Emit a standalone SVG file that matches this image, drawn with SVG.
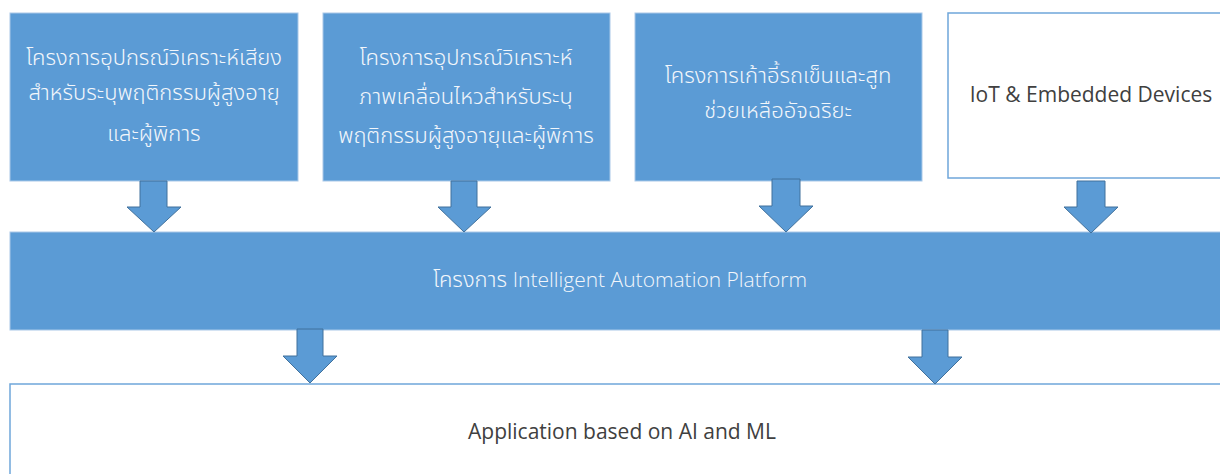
<svg xmlns="http://www.w3.org/2000/svg" width="1220" height="474" viewBox="0 0 1220 474">
  <defs>
    <style>
      .blue { fill: #5B9BD5; stroke: #A9C8E8; stroke-width: 1; }
      .plain { fill: #ffffff; stroke: #6FA6DA; stroke-width: 1.5; }
      .arrow { fill: #5B9BD5; stroke: #41719C; stroke-width: 1; }
      .th { font-family: "Noto Sans Thai", "Noto Sans", "DejaVu Sans", sans-serif; font-size: 22px; font-weight: 300; fill: #F2F6FB; text-anchor: middle; }
      .en { font-family: "Open Sans", "Noto Sans", "Liberation Sans", sans-serif; font-size: 21px; fill: #404040; text-anchor: middle; }
      .lat { font-family: "Open Sans", "Noto Sans", sans-serif; font-size: 21px; }
    </style>
  </defs>

  <rect width="1220" height="474" fill="#ffffff"/>

  <!-- project boxes, top row -->
  <g id="node-audio">
    <rect class="blue" x="10" y="13" width="288" height="168"/>
    <text class="th" x="154" y="65">โครงการอุปกรณ์วิเคราะห์เสียง</text>
    <text class="th" x="154" y="100">สำหรับระบุพฤติกรรมผู้สูงอายุ</text>
    <text class="th" x="154" y="141">และผู้พิการ</text>
  </g>

  <g id="node-motion">
    <rect class="blue" x="323" y="13" width="287" height="168"/>
    <text class="th" x="466" y="65">โครงการอุปกรณ์วิเคราะห์</text>
    <text class="th" x="466" y="104">ภาพเคลื่อนไหวสำหรับระบุ</text>
    <text class="th" x="466" y="143">พฤติกรรมผู้สูงอายุและผู้พิการ</text>
  </g>

  <g id="node-wheelchair">
    <rect class="blue" x="635" y="13" width="287" height="168"/>
    <text class="th" x="778" y="83">โครงการเก้าอี้รถเข็นและสูท</text>
    <text class="th" x="778" y="118">ช่วยเหลืออัจฉริยะ</text>
  </g>

  <g id="node-iot">
    <rect class="plain" x="948" y="13" width="280" height="165"/>
    <text class="en" x="1091" y="102">IoT &amp; Embedded Devices</text>
  </g>

  <!-- platform bar -->
  <g id="node-platform">
    <rect class="blue" x="10" y="232" width="1220" height="98"/>
    <text class="th" x="620" y="287">โครงการ <tspan class="lat">Intelligent Automation Platform</tspan></text>
  </g>

  <!-- application layer -->
  <g id="node-application">
    <rect class="plain" x="10" y="384" width="1220" height="100"/>
    <text class="en" x="622" y="439">Application based on AI and ML</text>
  </g>

  <!-- block arrows between layers -->
  <g id="connectors">
    <polygon class="arrow" points="140,181 167,181 167,207 181,207 154,232 127,207 140,207"/>
    <polygon class="arrow" points="451,181 477,181 477,207 491,207 464,232 438,207 451,207"/>
    <polygon class="arrow" points="772,179 800,179 800,206 813,206 786,232 759,206 772,206"/>
    <polygon class="arrow" points="1077,181 1105,181 1105,207 1118,207 1091,233 1064,207 1077,207"/>
    <polygon class="arrow" points="297,329 323,329 323,356 337,356 310,383 283,356 297,356"/>
    <polygon class="arrow" points="922,330 948,330 948,357 962,357 935,384 908,357 922,357"/>
  </g>
</svg>
